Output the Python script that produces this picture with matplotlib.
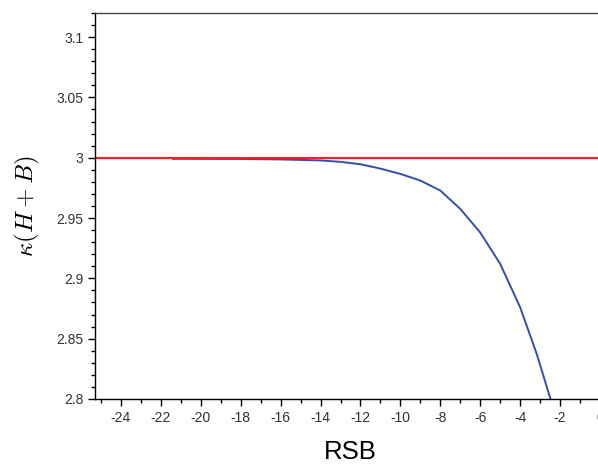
import numpy as np
import matplotlib.pyplot as plt
from matplotlib.ticker import MultipleLocator

plt.rcParams['font.family'] = ['Liberation Sans', 'DejaVu Sans']
plt.rcParams['mathtext.fontset'] = 'cm'
plt.rcParams['axes.unicode_minus'] = False

# curve
rsb = [-21.4, -18.0, -16.0, -14.0, -13.0, -12.0, -11.0, -10.0, -9.0, -8.0,
       -7.0, -6.0, -5.0, -4.0, -3.17, -2.48]
kappa = [2.9991, 2.9990, 2.9986, 2.9978, 2.9966, 2.9946, 2.9910, 2.9866, 2.9811,
         2.9728, 2.9576, 2.9380, 2.9120, 2.8760, 2.8373, 2.8000]
level = 3.0

xticks = list(range(-24, 1, 2))
yticks = [2.8, 2.85, 2.9, 2.95, 3.0, 3.05, 3.1]
yticklabels = ['2.8', '2.85', '2.9', '2.95', '3', '3.05', '3.1']

fig = plt.figure(figsize=(5.98, 4.68), dpi=100)
ax = fig.add_axes([95 / 598, 69 / 468, 510 / 598, 386 / 468])

ax.plot(rsb, kappa, color='#3350a8', lw=1.4, solid_joinstyle='round')
ax.axhline(level, color='#e8262a', lw=1.6)

ax.set_xlim(-25.3, 0.25)
ax.set_ylim(2.8, 3.12)
ax.set_xticks(xticks)
ax.set_xticklabels([str(t) for t in xticks])
ax.set_yticks(yticks)
ax.set_yticklabels(yticklabels)
ax.xaxis.set_minor_locator(MultipleLocator(1))
ax.yaxis.set_minor_locator(MultipleLocator(0.01))
ax.tick_params(which='major', direction='out', length=5, width=1, labelsize=10,
               labelcolor='#333333', top=False, right=False)
ax.tick_params(which='minor', direction='out', length=3, width=1, top=False, right=False)
ax.spines['right'].set_visible(False)
for s in ['left', 'bottom', 'top']:
    ax.spines[s].set_linewidth(1.0)
ax.spines['top'].set_color('#444444')

ax.set_xlabel('RSB', fontsize=18.5, labelpad=11)
ax.set_ylabel(r'$\kappa(H+B)$', fontsize=18, labelpad=10)

fig.savefig('out.png', dpi=100)
